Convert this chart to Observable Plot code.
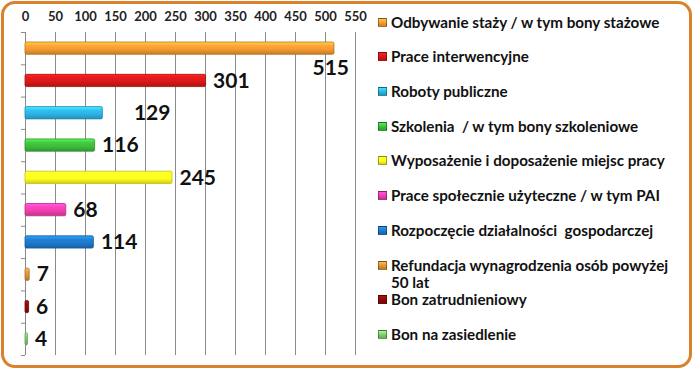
<!DOCTYPE html>
<html><head><meta charset="utf-8">
<script src="https://cdn.jsdelivr.net/npm/d3@7"></script>
<script src="https://cdn.jsdelivr.net/npm/@observablehq/plot@0.6"></script>
<style>
html,body{margin:0;padding:0;background:#fff;}
#wrap{position:relative;width:693px;height:369px;overflow:hidden;font-family:Lato,"Open Sans",sans-serif;}
#frame{position:absolute;left:1px;top:1px;width:685px;height:361px;border:3px solid #D9822B;border-radius:14px;background:#fff;}
#chart{position:absolute;left:0;top:0;}
#legend{position:absolute;left:378px;top:0;width:310px;}
.item{position:absolute;left:0;display:flex;align-items:flex-start;font-weight:bold;font-size:15.2px;line-height:17px;color:#111;}
.sw{width:9px;height:9px;margin-top:4px;margin-right:4px;flex:none;border:0.5px solid rgba(0,0,0,0.35);box-sizing:border-box;}
.txt{width:286px;white-space:pre-wrap;}
</style></head>
<body>
<div id="wrap"><div id="frame"></div><div id="chart"></div><div id="legend"></div></div>
<script>
const categories = [
  "Odbywanie staży / w tym bony stażowe",
  "Prace interwencyjne",
  "Roboty publiczne",
  "Szkolenia  / w tym bony szkoleniowe",
  "Wyposażenie i doposażenie miejsc pracy",
  "Prace społecznie użyteczne / w tym PAI",
  "Rozpoczęcie działalności  gospodarczej",
  "Refundacja wynagrodzenia osób powyżej 50 lat",
  "Bon zatrudnieniowy",
  "Bon na zasiedlenie"
];
const values = [515, 301, 129, 116, 245, 68, 114, 7, 6, 4];
const colors = ["#F39A33","#D81818","#2EB2E4","#3DBD3D","#FFFF1E","#EE3FAE","#1E78C8","#E0913A","#8A0A0A","#7CCB6E"];
const xTicks = d3.range(0, 551, 50);

const data = categories.map((c, i) => ({i, c, v: values[i], fill: `url(#g${i})`, color: colors[i]}));

const chart = Plot.plot({
  width: 693, height: 369,
  marginLeft: 25, marginRight: 338, marginTop: 32, marginBottom: 14,
  style: {background: "transparent", fontFamily: "Lato, sans-serif"},
  x: {domain: [0, 550], label: null},
  y: {domain: [0, 10], reverse: true, label: null},
  color: {type: "identity"},
  marks: [
    Plot.gridX(xTicks, {stroke: "#8a8a8a", strokeOpacity: 1, strokeWidth: 1}),
    Plot.axisX(xTicks, {anchor: "top", label: null, tickSize: 0, tickPadding: 12, fontSize: 13, fontWeight: "bold", fill: "#222", tickFormat: d => d}),
    Plot.ruleX([0], {stroke: "#8a8a8a"}),
    Plot.axisY(d3.range(0, 11), {anchor: "left", label: null, tickSize: 4, tickFormat: () => "", stroke: "#8a8a8a"}),
    Plot.rectX(data, {x1: 0, x2: "v", y1: d => d.i + 0.31, y2: d => d.i + 0.69, fill: "fill", stroke: d => d3.color(d.color).darker(0.8).formatHex(), strokeWidth: 0.8, rx: 1.5}),
    Plot.text(data.filter(d => d.i !== 0 && d.i !== 2), {x: "v", y: d => d.i + 0.5, text: d => String(d.v), textAnchor: "start", dx: 7, fontSize: 21, fontWeight: "bold", fill: "#111"}),
    Plot.text(data.filter(d => d.i === 0), {x: "v", y: d => d.i + 0.5, text: d => String(d.v), textAnchor: "start", dx: -22, dy: 20, fontSize: 21, fontWeight: "bold", fill: "#111"}),
    Plot.text(data.filter(d => d.i === 2), {x: "v", y: d => d.i + 0.5, text: d => String(d.v), textAnchor: "start", dx: 31, fontSize: 21, fontWeight: "bold", fill: "#111"})
  ]
});

// gradient defs for the glossy bars
const ns = "http://www.w3.org/2000/svg";
const defs = document.createElementNS(ns, "defs");
colors.forEach((c, i) => {
  const g = document.createElementNS(ns, "linearGradient");
  g.setAttribute("id", `g${i}`);
  g.setAttribute("x1", "0"); g.setAttribute("y1", "0"); g.setAttribute("x2", "0"); g.setAttribute("y2", "1");
  const base = d3.color(c);
  const stops = [[0, base.brighter(0.9)], [0.3, base.brighter(0.2)], [0.6, base], [1, base.darker(0.6)]];
  for (const [o, col] of stops) {
    const s = document.createElementNS(ns, "stop");
    s.setAttribute("offset", o);
    s.setAttribute("stop-color", col.formatHex());
    g.appendChild(s);
  }
  defs.appendChild(g);
});
chart.insertBefore(defs, chart.firstChild);
document.getElementById("chart").appendChild(chart);

// legend on the right
const legend = document.getElementById("legend");
const legendTop = [14, 48, 83, 118, 152, 187, 222, 257, 291, 326];
categories.forEach((c, i) => {
  const it = document.createElement("div");
  it.className = "item";
  it.style.top = legendTop[i] + "px";
  const sw = document.createElement("div");
  sw.className = "sw";
  sw.style.background = `linear-gradient(${d3.color(colors[i]).brighter(0.7).formatHex()}, ${colors[i]} 55%, ${d3.color(colors[i]).darker(0.5).formatHex()})`;
  const t = document.createElement("div");
  t.className = "txt";
  t.textContent = c;
  it.appendChild(sw); it.appendChild(t);
  legend.appendChild(it);
});
</script>
</body></html>
